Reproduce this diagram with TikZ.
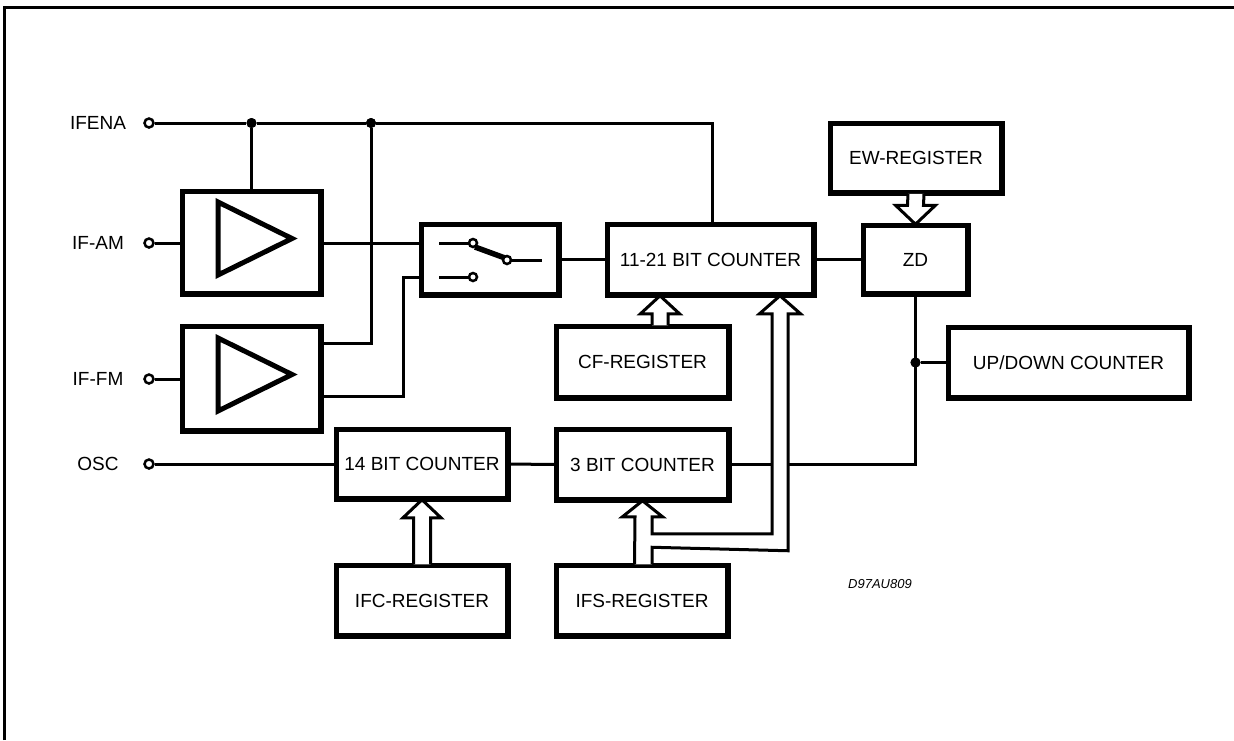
\documentclass[tikz,border=0pt]{standalone}
\usepackage{fontspec}
\setmainfont{Liberation Sans}
\usetikzlibrary{calc}
\begin{document}
\begin{tikzpicture}[x=1pt,y=-1pt,
  box/.style={draw, line width=3.5pt, inner sep=0pt, fill=white, font=\fontsize{19}{22}\selectfont},
  wire/.style={line width=3pt},
  lbl/.style={inner sep=0pt, font=\fontsize{19}{22}\selectfont},
  pin/.style={circle, draw, fill=white, line width=2.5pt, minimum size=9pt, inner sep=0pt},
  dot/.style={circle, fill, minimum size=10pt, inner sep=0pt},
  bus/.style={draw, fill=white, line width=3pt, line join=miter},
  tri/.style={line width=5pt, line join=miter}]
\useasboundingbox (0,0) rectangle (1234,740);
% frame
\draw[line width=3pt] (4,740) -- (4,7) -- (1234,7);

% boxes (positions)
\node[box, minimum width=137pt, minimum height=101pt] (amp1) at (251.5,242.5) {};
\node[box, minimum width=137pt, minimum height=103pt] (amp2) at (251.5,378.5) {};
\node[box, minimum width=136pt, minimum height=69pt] (sw) at (490,259.5) {};
\node[box, minimum width=205pt, minimum height=69pt] (cnt11) at (710.5,259.5) {11-21 BIT COUNTER};
\node[box, minimum width=171pt, minimum height=70pt] (cf) at (642.5,362) {CF-REGISTER};
\node[box, minimum width=171pt, minimum height=69pt] (cnt3) at (642.5,464.5) {3 BIT COUNTER};
\node[box, minimum width=170pt, minimum height=68pt] (cnt14) at (422,464) {14 BIT COUNTER};
\node[box, minimum width=170pt, minimum height=69pt] (ifc) at (422,600.5) {IFC-REGISTER};
\node[box, minimum width=170pt, minimum height=69pt] (ifs) at (642,600.5) {IFS-REGISTER};
\node[box, minimum width=103pt, minimum height=67pt] (zd) at (915.5,259.5) {ZD};
\node[box, minimum width=170pt, minimum height=68pt] (ew) at (916,158) {EW-REGISTER};
\node[box, minimum width=239pt, minimum height=69pt] (ud) at (1068.5,362.5) {UP/DOWN COUNTER};

% pins and labels
\node[lbl] (lifena) at (98,123) {IFENA};
\node[lbl] (lifam) at (98,243) {IF-AM};
\node[lbl] (liffm) at (98,379) {IF-FM};
\node[lbl] (losc) at (98,464) {OSC};
\node[pin] (pifena) at (149,123) {};
\node[pin] (pifam) at (149,243) {};
\node[pin] (piffm) at (149,379) {};
\node[pin] (posc) at (149,464) {};

% junction dots
\node[dot] (dA) at (251.5,123) {};
\node[dot] (dB) at (371,123) {};
\node[dot] (dC) at (915.5,362.5) {};

% coordinates
\coordinate (ifenaT) at (712,123);
\coordinate (swup) at ($(sw.west)+(0,-16.5)$);
\coordinate (swlo) at ($(sw.west)+(0,17.5)$);
\coordinate (a2up) at ($(amp2.east)+(0,-35.5)$);
\coordinate (a2lo) at ($(amp2.east)+(0,17.5)$);
\coordinate (zdb) at (zd.south |- cnt3.east);

% wires
\draw[wire] (pifena) -- (dA) -- (dB) -- (ifenaT) -- (ifenaT |- cnt11.north);
\draw[wire] (dA) -- (amp1.north);
\draw[wire] (dB) |- (a2up);
\draw[wire] (pifam) -- (pifam -| amp1.west);
\draw[wire] (swup -| amp1.east) -- (swup);
\draw[wire] (piffm) -- (piffm -| amp2.west);
\draw[wire] (a2lo) -| ($(swlo)+(-17,0)$) -- (swlo);
\draw[wire] (sw.east) -- (cnt11.west);
\draw[wire] (cnt11.east) -- (zd.west);
\draw[wire] (posc) -- (posc -| cnt14.west);
\draw[wire] (cnt14.east) -- (cnt3.west);
\draw[wire] (cnt3.east) -- (zdb) -- (zd.south);
\draw[wire] (dC) -- (ud.west);

% redraw boxes on top of wires
\foreach \n in {amp1,amp2,sw,cnt11,cf,cnt3,cnt14,ifc,ifs,zd,ew,ud}{
  \draw[line width=3.5pt] (\n.north west) rectangle (\n.south east);
}
\node[dot] at (dA) {};
\node[dot] at (dB) {};
\node[dot] at (dC) {};

% amplifier triangles
\foreach \a in {amp1,amp2}{
  \draw[tri] ($(\a.center)+(-33.5,-40.5)$) -- ($(\a.center)+(-33.5,32.5)$) -- ($(\a.center)+(40.5,-4)$) -- cycle;
}

% switch internals
\draw[wire] (439,243) -- (470,243);
\draw[wire] (439,277) -- (470,277);
\draw[wire] (510,260) -- (542,260);
\draw[line width=5.5pt] (475,247) -- (505,258);
\node[pin, minimum size=8pt] (c1) at (473,243) {};
\node[pin, minimum size=8pt] (c2) at (473,277) {};
\node[pin, minimum size=8pt] (c3) at (507,260) {};

% hollow arrows
\coordinate (cfa) at ($(cf.north)+(17.5,0)$);
\coordinate (cft) at (cfa |- cnt11.south);
\draw[bus] ($(cfa)+(-8,0)$) -- ($(cft)+(-8,18)$) -- ($(cft)+(-19.5,18)$) -- (cft) -- ($(cft)+(19.5,18)$) -- ($(cft)+(8,18)$) -- ($(cfa)+(8,0)$);

\draw[bus] ($(ifc.north)+(-8.5,0)$) -- ($(cnt14.south)+(-8.5,18)$) -- ($(cnt14.south)+(-19,18)$) -- (cnt14.south) -- ($(cnt14.south)+(19,18)$) -- ($(cnt14.south)+(8.5,18)$) -- ($(ifc.north)+(8.5,0)$);

\draw[bus] ($(ew.south)+(-8,0)$) -- ($(zd.north)+(-8,-19)$) -- ($(zd.north)+(-20,-19)$) -- (zd.north) -- ($(zd.north)+(20,-19)$) -- ($(zd.north)+(8,-19)$) -- ($(ew.south)+(8,0)$);

\coordinate (b1) at ($(cnt11.south)+(69.5,0)$);
\coordinate (b3) at (cnt3.south);
\draw[bus] ($(ifs.north)+(-7.5,0)$) -- ($(b3)+(-7.5,16)$) -- ($(b3)+(-20,16)$) -- (b3) -- ($(b3)+(20,16)$) -- ($(b3)+(9.5,16)$)
  -- ($(b3)+(9.5,33)$) -- ($(b1)+(-8,238)$) -- ($(b1)+(-8,18)$) -- ($(b1)+(-20.5,18)$) -- (b1) -- ($(b1)+(20.5,18)$) -- ($(b1)+(8,18)$)
  -- ($(b1)+(8,255)$) -- ($(ifs.north)+(10,-17)$) -- ($(ifs.north)+(10,0)$);

\node[font=\fontsize{13}{15}\selectfont\itshape] (code) at (880,584) {D97AU809};
\end{tikzpicture}
\end{document}
